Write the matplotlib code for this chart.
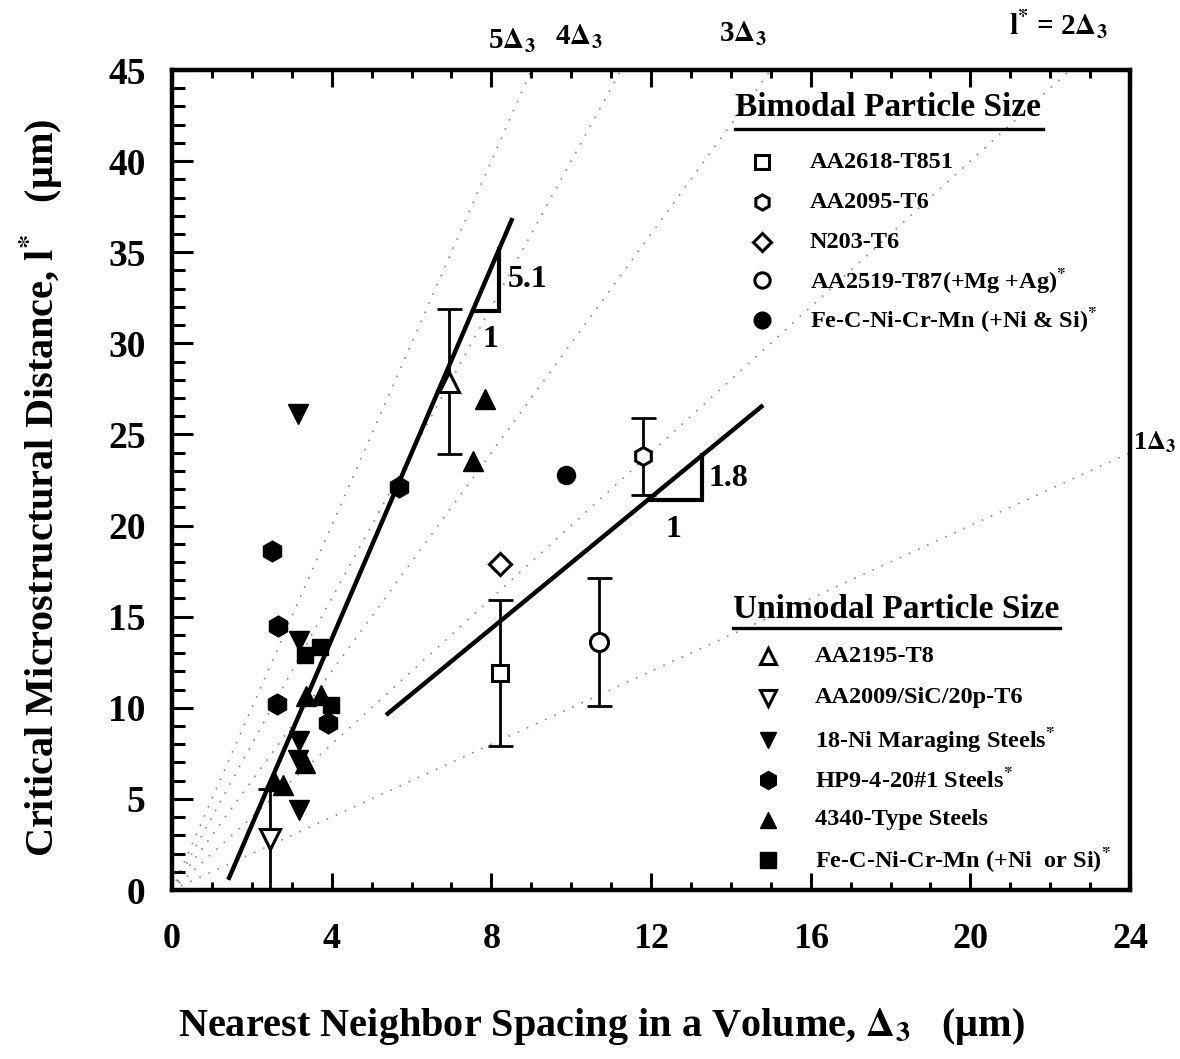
import matplotlib
matplotlib.use("Agg")
import matplotlib.pyplot as plt
from matplotlib.lines import Line2D
from matplotlib.ticker import MultipleLocator

plt.rcParams['font.family'] = ['Liberation Serif', 'DejaVu Serif']
plt.rcParams['font.weight'] = 'bold'
plt.rcParams['mathtext.fontset'] = 'stix'
plt.rcParams['mathtext.default'] = 'bf'

# ---- bimodal particle size alloys ----
aa2618_x = [8.22]
aa2618_y = [11.9]
aa2618_err = [4.0]

aa2095_x = [11.81]
aa2095_y = [23.8]
aa2095_err = [2.1]

n203_x = [8.21]
n203_y = [17.9]

aa2519_x = [10.69]
aa2519_y = [13.6]
aa2519_err = [3.5]

fe_bimodal_x = [9.88]
fe_bimodal_y = [22.8]

# ---- unimodal particle size alloys ----
aa2195_x = [6.94]
aa2195_y = [27.9]
aa2195_err = [4.0]

aa2009_x = [2.46]
aa2009_y = [2.8]
aa2009_err = [2.75]

maraging_x = [3.15, 3.18, 3.17, 3.16, 3.17]
maraging_y = [26.1, 13.65, 8.15, 7.14, 4.4]

hp9_x = [5.69, 2.50, 2.65, 2.64, 3.90]
hp9_y = [22.1, 18.6, 14.5, 10.2, 9.15]

s4340_x = [7.83, 7.55, 3.36, 3.74, 3.32, 2.56, 2.77]
s4340_y = [26.95, 23.57, 10.62, 10.70, 6.96, 5.97, 5.78]

fe_unimodal_x = [3.34, 3.72, 3.98]
fe_unimodal_y = [12.9, 13.35, 10.14]

# ---- fitted trend lines: slope, intercept, x-extent, slope-triangle x-range ----
steep_slope, steep_icpt = 5.1, -6.63
steep_xrange = (1.41, 8.53)
steep_tri = (7.535, 8.2)

shallow_slope, shallow_icpt = 1.8, -0.05
shallow_xrange = (5.36, 14.81)
shallow_tri = (11.92, 13.28)

# ---- reference lines l* = n * Delta_3 ----
ref_multiples = [1, 2, 3, 4, 5]

W, H = 1180, 1059
fig = plt.figure(figsize=(W / 100, H / 100), dpi=100)
ax = fig.add_axes([172 / W, 1 - 890 / H, (1130 - 172) / W, (890 - 70) / H])

ax.set_xlim(0, 24)
ax.set_ylim(0, 45)

# dotted reference lines through the origin
for n in ref_multiples:
    ax.plot([0, 24], [0, 24 * n], linestyle=(0, (1, 5)), color='#8a8a8a',
            lw=1.2, zorder=1)

# trend lines
def line_y(slope, icpt, x):
    return slope * x + icpt

for slope, icpt, xr, tri in [(steep_slope, steep_icpt, steep_xrange, steep_tri),
                             (shallow_slope, shallow_icpt, shallow_xrange, shallow_tri)]:
    ax.plot(xr, [line_y(slope, icpt, x) for x in xr], color='black', lw=3.2,
            solid_capstyle='butt', zorder=3)
    x0, x1 = tri
    y0 = line_y(slope, icpt, x0)
    y1 = line_y(slope, icpt, x1)
    ax.plot([x0, x1, x1], [y0, y0, y1], color='black', lw=3.0, zorder=3,
            solid_joinstyle='miter')

txt = dict(fontsize=23, fontweight='bold', color='black')
ax.text(8.42, 33.5, '5.1', ha='left', va='center', **txt)
ax.text(7.98, 30.2, '1', ha='center', va='center', **txt)
ax.text(13.45, 22.6, '1.8', ha='left', va='center', **txt)
ax.text(12.56, 19.8, '1', ha='center', va='center', **txt)

# error bars
eb = dict(fmt='none', ecolor='black', elinewidth=2.0, capsize=9, capthick=2.0, zorder=4)
ax.errorbar(aa2618_x, aa2618_y, yerr=aa2618_err, **eb)
ax.errorbar(aa2095_x, aa2095_y, yerr=aa2095_err, **eb)
ax.errorbar(aa2519_x, aa2519_y, yerr=aa2519_err, **eb)
ax.errorbar(aa2195_x, aa2195_y, yerr=aa2195_err, **eb)
ax.errorbar(aa2009_x, aa2009_y, yerr=aa2009_err, **eb)

# series styles
open_kw = dict(mfc='white', mec='black', mew=2.2)
filled_kw = dict(mfc='black', mec='black', mew=1)
series = [
    (aa2618_x, aa2618_y, 's', 12, open_kw),
    (aa2095_x, aa2095_y, 'h', 13, open_kw),
    (n203_x, n203_y, 'D', 11, open_kw),
    (aa2519_x, aa2519_y, 'o', 13, open_kw),
    (fe_bimodal_x, fe_bimodal_y, 'o', 13, filled_kw),
    (aa2195_x, aa2195_y, '^', 14, open_kw),
    (aa2009_x, aa2009_y, 'v', 14, open_kw),
    (maraging_x, maraging_y, 'v', 15, filled_kw),
    (hp9_x, hp9_y, 'h', 15, filled_kw),
    (s4340_x, s4340_y, '^', 15, filled_kw),
    (fe_unimodal_x, fe_unimodal_y, 's', 12, filled_kw),
]
for xs, ys, m, ms, kw in series:
    ax.plot(xs, ys, linestyle='none', marker=m, ms=ms, zorder=5, **kw)

# axes styling
for side in ['left', 'bottom', 'top', 'right']:
    ax.spines[side].set_linewidth(3.2)
ax.xaxis.set_major_locator(MultipleLocator(4))
ax.xaxis.set_minor_locator(MultipleLocator(1))
ax.yaxis.set_major_locator(MultipleLocator(5))
ax.yaxis.set_minor_locator(MultipleLocator(1))
ax.tick_params(axis='x', which='both', direction='in', top=True, bottom=True, width=2.2)
ax.tick_params(axis='x', which='major', length=12, pad=24, labelsize=26)
ax.tick_params(axis='x', which='minor', length=6)
ax.tick_params(axis='y', which='both', direction='in', left=True, right=False, width=2.2)
ax.tick_params(axis='y', which='major', length=15, pad=19, labelsize=27)
ax.tick_params(axis='y', which='minor', length=9)
for lab in ax.get_xticklabels() + ax.get_yticklabels():
    lab.set_fontweight('bold')

ax.set_xlabel(r'Nearest Neighbor Spacing in a Volume, $\Delta_3$   (μm)',
              fontsize=29, fontweight='bold')
ax.xaxis.set_label_coords(0.448, -0.142)
ax.set_ylabel(r'Critical Microstructural Distance, l$^{*}$   (μm)',
              fontsize=29, fontweight='bold')
ax.yaxis.set_label_coords(-0.112, 0.49)

# reference line labels above the frame and to the right
ref_kw = dict(fontsize=21, fontweight='bold', ha='center', va='center', clip_on=False)
ax.text(8.5, 46.6, r'5$\Delta_3$', **ref_kw)
ax.text(10.2, 46.8, r'4$\Delta_3$', **ref_kw)
ax.text(14.3, 47.0, r'3$\Delta_3$', **ref_kw)
ax.text(22.2, 47.5, r'l$^{*}$ = 2$\Delta_3$', **ref_kw)
ax.text(24.08, 24.6, r'1$\Delta_3$', fontsize=19, fontweight='bold', ha='left',
        va='center', clip_on=False)

# two-part key drawn in figure pixel space
def fx(x):
    return x / W

def fy(y):
    return 1 - y / H

def key_title(text, x, y, x_end, y_line):
    fig.text(fx(x), fy(y), text, fontsize=24, fontweight='bold', ha='left', va='center')
    fig.add_artist(Line2D([fx(x), fx(x_end)], [fy(y_line), fy(y_line)],
                          color='black', lw=2.4))

def key_entry(text, mx, tx, y, marker, ms, kw):
    fig.add_artist(Line2D([fx(mx)], [fy(y)], linestyle='none', marker=marker,
                          ms=ms, **kw))
    fig.text(fx(tx), fy(y), text, fontsize=17.5, fontweight='bold', ha='left', va='center')

key_title('Bimodal Particle Size', 735, 108, 1043, 129)
bimodal_keys = [
    ('AA2618-T851', 's', 10, open_kw),
    ('AA2095-T6', 'h', 11, open_kw),
    ('N203-T6', 'D', 9, open_kw),
    (r'AA2519-T87(+Mg +Ag)$^{*}$', 'o', 11, open_kw),
    (r'Fe-C-Ni-Cr-Mn (+Ni & Si)$^{*}$', 'o', 12, filled_kw),
]
for (label, m, ms, kw), y in zip(bimodal_keys, [162, 202, 242, 280, 320]):
    key_entry(label, 762, 810, y, m, ms, kw)

key_title('Unimodal Particle Size', 733, 609, 1060, 628)
unimodal_keys = [
    ('AA2195-T8', '^', 11, open_kw),
    ('AA2009/SiC/20p-T6', 'v', 11, open_kw),
    (r'18-Ni Maraging Steels$^{*}$', 'v', 12, filled_kw),
    (r'HP9-4-20#1 Steels$^{*}$', 'h', 13, filled_kw),
    ('4340-Type Steels', '^', 12, filled_kw),
    (r'Fe-C-Ni-Cr-Mn (+Ni  or Si)$^{*}$', 's', 11, filled_kw),
]
for (label, m, ms, kw), y in zip(unimodal_keys, [656, 698, 740, 780, 820, 860]):
    key_entry(label, 768, 815, y, m, ms, kw)

fig.savefig('out.png', dpi=100, facecolor='white')
